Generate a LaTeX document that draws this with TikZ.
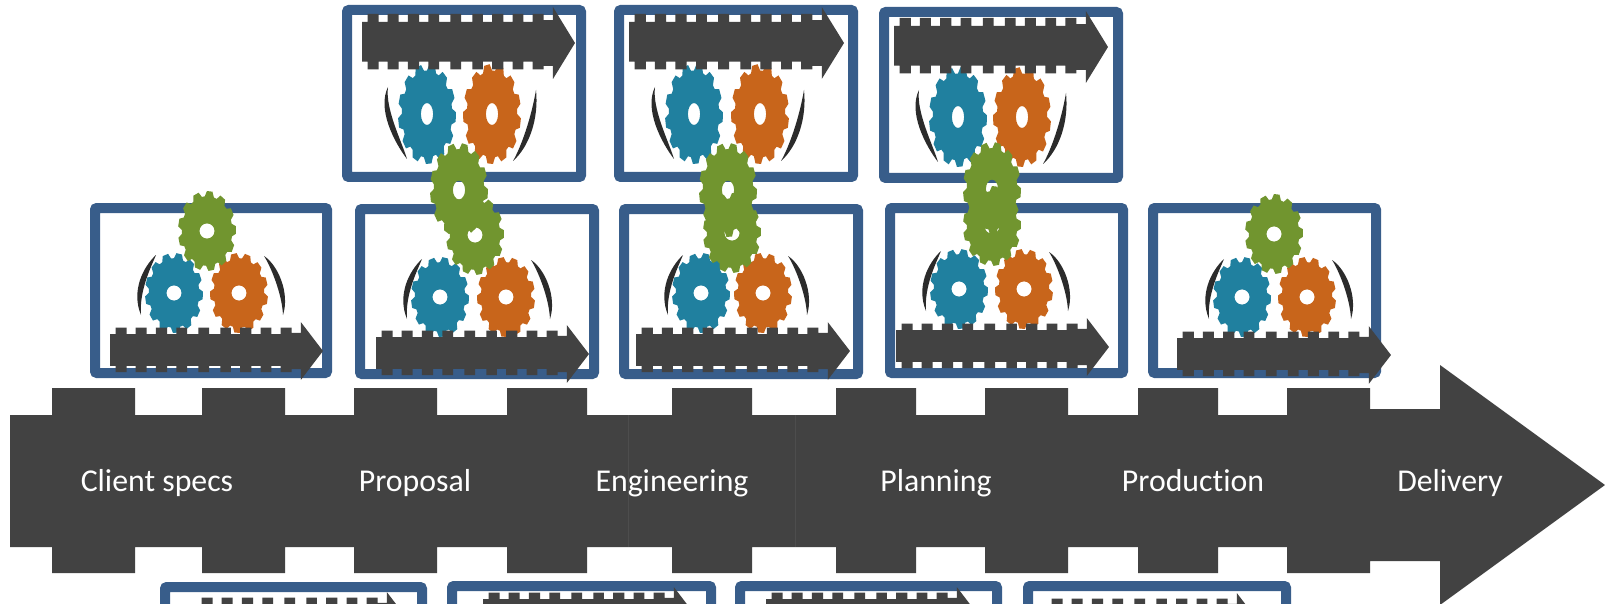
\documentclass[tikz,border=0pt]{standalone}
\usepackage{fontspec}
\setmainfont[Ligatures=NoCommon]{Carlito}
\definecolor{arrowgrey}{HTML}{424242}
\definecolor{seamgrey}{HTML}{4D4D4D}
\definecolor{boxblue}{HTML}{385D8A}
\definecolor{gearblue}{HTML}{20809F}
\definecolor{gearorange}{HTML}{C8651B}
\definecolor{geargreen}{HTML}{71952F}
\definecolor{arcdark}{HTML}{2B2B2B}
\tikzset{
  framebox/.style={draw=boxblue,line width=10pt,rounded corners=2pt},
  steplabel/.style={text=white,anchor=base,inner sep=0pt,font=\fontsize{31.8}{34}\selectfont},
  arrowfill/.style={fill=arrowgrey},
  seam/.style={draw=seamgrey,line width=.8pt},
  arcfill/.style={fill=arcdark}
}
% shape of the notched arrow in the coordinates of the large one
\newcommand{\arrowshape}{(10,415)
  -- (52,415) -- (52,388) -- (135,388) -- (135,415)
  -- (202,415) -- (202,388) -- (285,388) -- (285,415)
  -- (354,415) -- (354,388) -- (437,388) -- (437,415)
  -- (507,415) -- (507,388) -- (587,388) -- (587,415)
  -- (672,415) -- (672,388) -- (752,388) -- (752,415)
  -- (836,415) -- (836,388) -- (916,388) -- (916,415)
  -- (985,415) -- (985,388) -- (1068,388) -- (1068,415)
  -- (1138,415) -- (1138,388) -- (1218,388) -- (1218,415)
  -- (1287,415) -- (1287,388) -- (1370,388) -- (1370,409)
  -- (1440,409) -- (1440,365) -- (1605,485) -- (1440,605) -- (1440,561)
  -- (1370,561) -- (1370,573) -- (1287,573) -- (1287,547)
  -- (1218,547) -- (1218,573) -- (1138,573) -- (1138,547)
  -- (1068,547) -- (1068,573) -- (985,573) -- (985,547)
  -- (916,547) -- (916,573) -- (836,573) -- (836,547)
  -- (752,547) -- (752,573) -- (672,573) -- (672,547)
  -- (587,547) -- (587,573) -- (507,573) -- (507,547)
  -- (437,547) -- (437,573) -- (354,573) -- (354,547)
  -- (285,547) -- (285,573) -- (202,573) -- (202,547)
  -- (135,547) -- (135,573) -- (52,573) -- (52,547)
  -- (10,547) -- cycle}
% #1 left, #2 tip, #3 y of the axis, #4 vertical scale
\newcommand{\miniarrow}[4]{%
  \pgfmathsetmacro{\kx}{(#2-#1)/1595}%
  \pgfmathsetmacro{\sx}{#1-10*\kx}%
  \pgfmathsetmacro{\sy}{#3-485*#4}%
  \begin{scope}[shift={(\sx,\sy)},xscale=\kx,yscale=#4]
    \fill[arrowfill] \arrowshape;
  \end{scope}}
% outer box edges
\newcommand{\iconbox}[4]{\draw[framebox] ({#1+5},{#2+5}) rectangle ({#3-5},{#4-5});}
% #1 x, #2 y, #3 rx, #4 ry, #5 hole rx, #6 hole ry, #7 colour, #8 phase
\newcommand{\gear}[8]{%
  \begin{scope}[shift={(#1,#2)},xscale=#3,yscale=#4]
    \fill[#7,even odd rule] ({#8-12}:.87)
      \foreach \i in {0,...,12}{
        -- ({\i*360/13+#8-12}:.87) -- ({\i*360/13+#8-7}:1)
        -- ({\i*360/13+#8+4}:1) -- ({\i*360/13+#8+9}:.87)
      } -- cycle
      (0,0) ellipse [x radius=#5,y radius=#6];
  \end{scope}}
\newcommand{\crescent}[9]{%
  \fill[arcfill] (#1,#2) .. controls (#3,#4) and (#5,#6) .. (#7,#8)
    .. controls ({#5+#9},#6) and ({#3+#9},#4) .. cycle;}
\newcommand{\midarcs}[4]{%
  \begin{scope}[shift={(#1,#2)}]\crescent{-18}{-38}{-31}{-26}{-43}{-2}{-33}{22}{8}\end{scope}
  \begin{scope}[shift={(#3,#4)}]\crescent{25}{-37}{39}{-28}{51}{0}{44}{22}{-8}\end{scope}}
\newcommand{\toparcs}[4]{%
  \begin{scope}[shift={(#1,#2)}]\crescent{-39}{-27}{-50}{-5}{-33}{28}{-20}{45}{8}\end{scope}
  \begin{scope}[shift={(#3,#4)}]\crescent{44}{-24}{47}{5}{37}{33}{21}{47}{-8}\end{scope}}
\newcommand{\midgears}[4]{%
  \gear{#1}{#2}{29}{40}{.26}{.19}{gearblue}{5}
  \gear{#3}{#4}{29}{40}{.26}{.19}{gearorange}{12}}
\newcommand{\topgears}[4]{%
  \gear{#1}{#2}{29}{50}{.21}{.22}{gearblue}{5}
  \gear{#3}{#4}{29}{50}{.21}{.22}{gearorange}{12}}
\begin{document}
\begin{tikzpicture}[x=1pt,y=-1pt]
\useasboundingbox (0,0) rectangle (1605,604);
\clip (0,0) rectangle (1605,604);
\fill[white] (0,0) rectangle (1605,604);
% large arrow
\fill[arrowfill] \arrowshape;
\draw[seam] (628,415) -- (628,547);
\draw[seam] (795,415) -- (795,547);
% frames
\iconbox{90}{203}{332}{378}
\iconbox{355}{204}{599}{379}
\iconbox{619}{204}{863}{379}
\iconbox{885}{203}{1128}{378}
\iconbox{1148}{203}{1381}{378}
\iconbox{342}{5}{586}{182}
\iconbox{614}{5}{858}{182}
\iconbox{879}{7}{1123}{183}
\iconbox{160}{582}{427}{640}
\iconbox{447}{581}{716}{640}
\iconbox{735}{581}{1002}{640}
\iconbox{1023}{581}{1291}{640}
% arcs
\midarcs{174}{293}{239}{293}
\midarcs{440}{297}{506}{297}
\midarcs{701}{293}{763}{293}
\midarcs{959}{289}{1024}{289}
\midarcs{1242}{297}{1307}{297}
\toparcs{427}{114}{492}{114}
\toparcs{694}{114}{760}{114}
\toparcs{958}{117}{1022}{117}
% blue and orange gears
\midgears{174}{293}{239}{293}
\midgears{440}{297}{506}{297}
\midgears{701}{293}{763}{293}
\midgears{959}{289}{1024}{289}
\midgears{1242}{297}{1307}{297}
\topgears{427}{114}{492}{114}
\topgears{694}{114}{760}{114}
\topgears{958}{117}{1022}{117}
% small arrows
\miniarrow{110}{323}{351}{.24}
\miniarrow{376}{589}{354}{.24}
\miniarrow{636}{850}{351}{.24}
\miniarrow{896}{1109}{347}{.24}
\miniarrow{1177}{1391}{355}{.24}
\miniarrow{362}{575}{43}{.3}
\miniarrow{629}{844}{43}{.3}
\miniarrow{894}{1108}{47}{.3}
\miniarrow{196}{409}{621}{.24}
\miniarrow{483}{696}{616}{.24}
\miniarrow{766}{979}{616}{.24}
\miniarrow{1046}{1259}{622}{.24}
% green gears
\gear{207}{231}{29}{40}{.26}{.19}{geargreen}{0}
\gear{475}{235}{29}{40}{.26}{.19}{geargreen}{0}
\gear{732}{233}{29}{40}{.26}{.19}{geargreen}{0}
\gear{992}{226}{29}{40}{.26}{.19}{geargreen}{0}
\gear{1274}{234}{29}{40}{.26}{.19}{geargreen}{0}
\gear{459}{190}{29}{47}{.21}{.2}{geargreen}{6}
\gear{728}{190}{29}{47}{.21}{.2}{geargreen}{6}
\gear{992}{189}{29}{47}{.21}{.2}{geargreen}{6}
% labels
\node[steplabel] (client) at (157,491) {Client specs};
\node[steplabel] (proposal) at (415,491) {Proposal};
\node[steplabel] (engineering) at (672,491) {Engineering};
\node[steplabel] (planning) at (936,491) {Planning};
\node[steplabel] (production) at (1193,491) {Production};
\node[steplabel] (delivery) at (1450,491) {Delivery};
\end{tikzpicture}
\end{document}
